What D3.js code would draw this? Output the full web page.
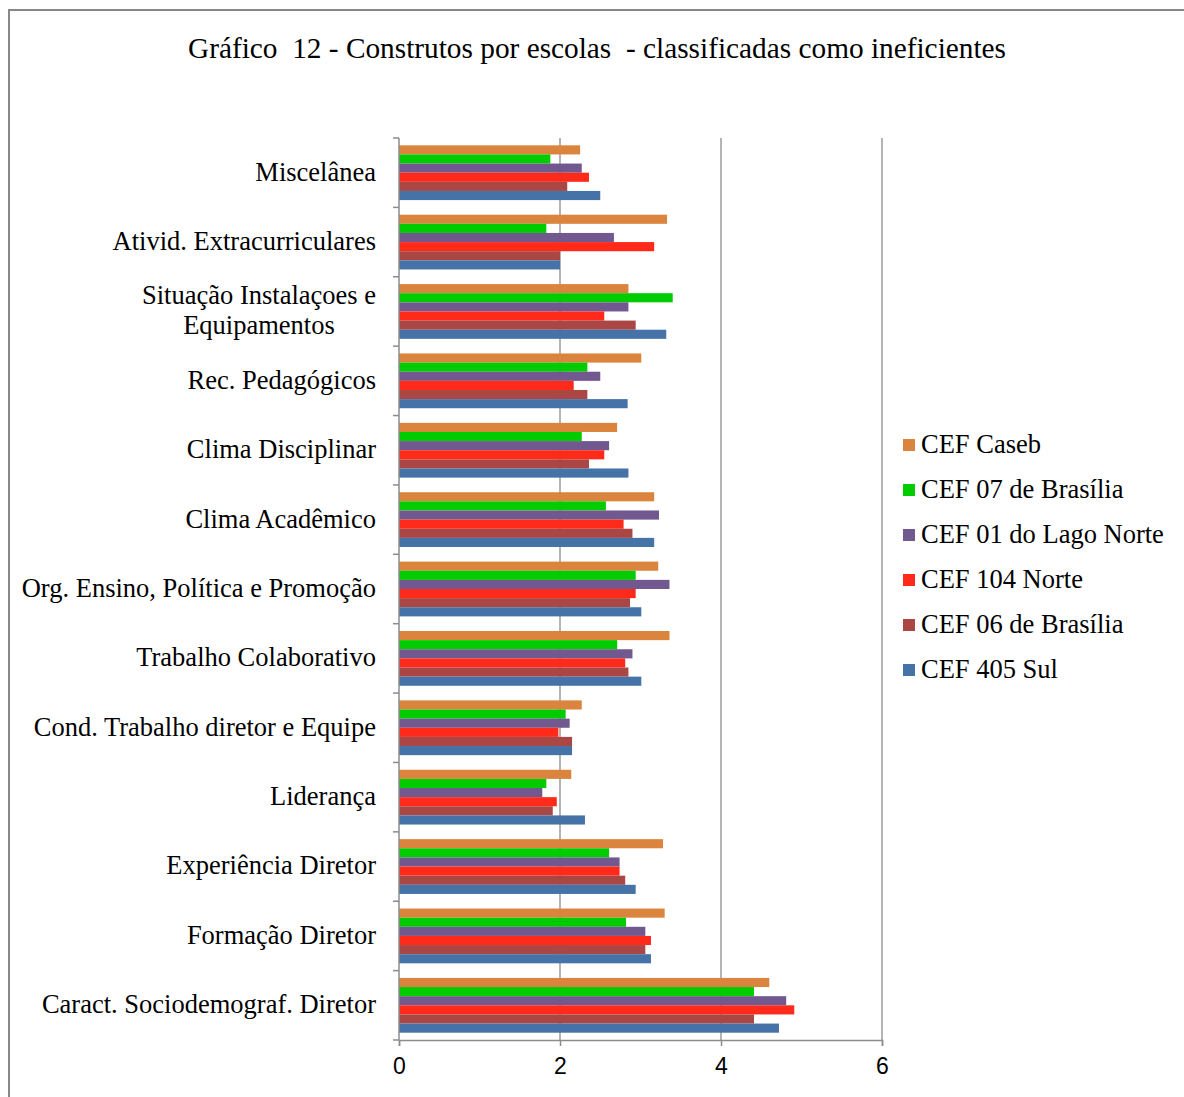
<!DOCTYPE html>
<html>
<head>
<meta charset="utf-8">
<script src="https://cdn.jsdelivr.net/npm/d3@7"></script>
<style>
  body { margin: 0; background: #fff; }
  svg { display: block; }
</style>
</head>
<body>
<div id="chart"></div>
<script>
// DATA
const categories = [
  "Miscelânea",
  "Ativid. Extracurriculares",
  "Situação Instalaçoes e|Equipamentos",
  "Rec. Pedagógicos",
  "Clima Disciplinar",
  "Clima Acadêmico",
  "Org. Ensino, Política e Promoção",
  "Trabalho Colaborativo",
  "Cond. Trabalho diretor e Equipe",
  "Liderança",
  "Experiência Diretor",
  "Formação Diretor",
  "Caract. Sociodemograf. Diretor"
];
const seriesNames = ["CEF Caseb", "CEF 07 de Brasília", "CEF 01 do Lago Norte", "CEF 104 Norte", "CEF 06 de Brasília", "CEF 405 Sul"];
const seriesColors = ["#DB843D", "#00CC00", "#71588F", "#FF2A1A", "#AA4643", "#4572A7"];

// values per series, same order as categories (top to bottom)
const caseb    = [2.25, 3.33, 2.85, 3.01, 2.71, 3.17, 3.22, 3.36, 2.27, 2.14, 3.28, 3.30, 4.60];
const cef07    = [1.88, 1.83, 3.40, 2.34, 2.27, 2.57, 2.94, 2.71, 2.07, 1.83, 2.61, 2.82, 4.41];
const cef01    = [2.27, 2.67, 2.85, 2.50, 2.61, 3.23, 3.36, 2.90, 2.12, 1.78, 2.74, 3.06, 4.81];
const cef104   = [2.36, 3.17, 2.55, 2.17, 2.55, 2.79, 2.94, 2.81, 1.98, 1.96, 2.74, 3.13, 4.91];
const cef06    = [2.09, 2.00, 2.94, 2.34, 2.36, 2.90, 2.87, 2.85, 2.15, 1.91, 2.81, 3.06, 4.41];
const cef405   = [2.50, 2.00, 3.32, 2.84, 2.85, 3.17, 3.01, 3.01, 2.15, 2.31, 2.94, 3.13, 4.72];
const seriesValues = [caseb, cef07, cef01, cef104, cef06, cef405];
const xTicks = [0, 2, 4, 6];

// CONSTANTS
const width = 1184, height = 1097;
const plot = {left: 399, right: 882, top: 138, bottom: 1040};
const serif = "'Liberation Serif', 'Times New Roman', serif";

const svg = d3.select("#chart").append("svg")
  .attr("width", width)
  .attr("height", height);

// frame
svg.append("path")
  .attr("d", `M9,${height} L9,10 L${width},10`)
  .attr("fill", "none")
  .attr("stroke", "#888")
  .attr("stroke-width", 2);

// title (condensed look like the original)
svg.append("text")
  .attr("x", 597)
  .attr("y", 58)
  .attr("text-anchor", "middle")
  .attr("textLength", 818)
  .attr("lengthAdjust", "spacingAndGlyphs")
  .style("white-space", "pre")
  .style("font-family", serif)
  .style("font-size", "30px")
  .style("fill", "#000")
  .text("Gráfico  12 - Construtos por escolas  - classificadas como ineficientes");

// SCALES
const xScale = d3.scaleLinear()
  .domain([0, 6])
  .range([plot.left, plot.right]);

const yScale = d3.scaleBand()
  .domain(categories)
  .range([plot.top, plot.bottom]);

const ySub = d3.scaleBand()
  .domain(d3.range(seriesNames.length))
  .range([0, yScale.bandwidth()])
  .paddingOuter(0.8);

// gridlines
svg.append("g")
  .selectAll("line")
  .data(xTicks.slice(1))
  .join("line")
  .attr("x1", d => xScale(d))
  .attr("x2", d => xScale(d))
  .attr("y1", plot.top)
  .attr("y2", plot.bottom)
  .attr("stroke", "#8c8c8c")
  .attr("stroke-width", 1.3);

// BARS
const groups = svg.append("g")
  .selectAll("g")
  .data(categories)
  .join("g")
  .attr("transform", c => `translate(0,${yScale(c)})`);

groups.selectAll("rect")
  .data((c, ci) => seriesValues.map((vals, si) => ({si, v: vals[ci]})))
  .join("rect")
  .attr("x", xScale(0))
  .attr("y", d => ySub(d.si))
  .attr("width", d => xScale(d.v) - xScale(0))
  .attr("height", ySub.bandwidth())
  .attr("fill", d => seriesColors[d.si]);

// AXES
const xAxis = d3.axisBottom(xScale)
  .tickValues(xTicks)
  .tickFormat(d3.format("d"))
  .tickSize(6)
  .tickPadding(12);
const xAxisGroup = svg.append("g")
  .attr("transform", `translate(0,${plot.bottom})`)
  .call(xAxis);
xAxisGroup.select(".domain").attr("stroke", "#8c8c8c").attr("stroke-width", 1.5);
xAxisGroup.selectAll(".tick line").attr("stroke", "#8c8c8c").attr("stroke-width", 1.5);
xAxisGroup.selectAll(".tick text")
  .style("font-family", "'Liberation Sans', Arial, sans-serif")
  .style("font-size", "23px")
  .attr("fill", "#000");

// y axis line with ticks between categories
const yAxisGroup = svg.append("g");
yAxisGroup.append("line")
  .attr("x1", plot.left).attr("x2", plot.left)
  .attr("y1", plot.top).attr("y2", plot.bottom)
  .attr("stroke", "#8c8c8c").attr("stroke-width", 1.5);
yAxisGroup.selectAll("line.tk")
  .data(categories.concat(["end"]))
  .join("line")
  .attr("class", "tk")
  .attr("x1", plot.left - 6).attr("x2", plot.left)
  .attr("y1", (c, i) => plot.top + i * yScale.step())
  .attr("y2", (c, i) => plot.top + i * yScale.step())
  .attr("stroke", "#8c8c8c").attr("stroke-width", 1.5);

// category labels
const labelRight = 376;
categories.forEach(c => {
  const lines = c.split("|");
  const cy = yScale(c) + yScale.bandwidth() / 2;
  const t = svg.append("text")
    .style("font-family", serif)
    .style("font-size", "26.5px")
    .attr("fill", "#000");
  const lh = 30;
  lines.forEach((ln, i) => {
    t.append("tspan")
      .attr("y", cy + (i - (lines.length - 1) / 2) * lh)
      .attr("dy", "0.3em")
      .text(ln);
  });
  // right-align block, center lines within it
  const spans = t.selectAll("tspan").nodes();
  const maxW = d3.max(spans, s => s.getComputedTextLength());
  spans.forEach(s => {
    d3.select(s).attr("x", labelRight - maxW / 2).attr("text-anchor", "middle");
  });
});

// LEGEND
const legend = svg.append("g")
  .selectAll("g")
  .data(seriesNames)
  .join("g")
  .attr("transform", (d, i) => `translate(903,${445 + i * 45})`);
legend.append("rect")
  .attr("x", 0).attr("y", -6)
  .attr("width", 12).attr("height", 12)
  .attr("fill", (d, i) => seriesColors[i]);
legend.append("text")
  .attr("x", 18)
  .attr("dy", "0.3em")
  .style("font-family", serif)
  .style("font-size", "26.5px")
  .attr("fill", "#000")
  .text(d => d);
</script>
</body>
</html>
